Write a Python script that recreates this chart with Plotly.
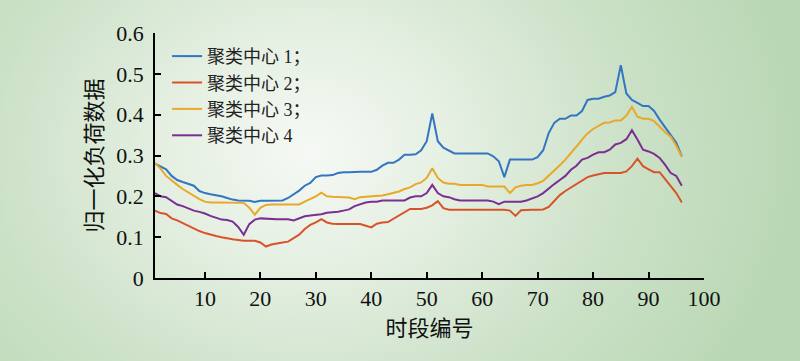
import base64
import plotly.graph_objects as go

x_idx = list(range(1, 97))

names = ["聚类中心 1；", "聚类中心 2；", "聚类中心 3；", "聚类中心 4"]
colors = ["#3276c2", "#d9532a", "#eaa82a", "#7a2f92"]

center1 = [0.280, 0.272, 0.266, 0.250, 0.240, 0.235, 0.230, 0.226, 0.213, 0.208,
           0.205, 0.203, 0.200, 0.196, 0.192, 0.190, 0.190, 0.189, 0.186, 0.189,
           0.189, 0.189, 0.190, 0.190, 0.196, 0.205, 0.214, 0.226, 0.233, 0.247,
           0.251, 0.251, 0.252, 0.257, 0.259, 0.259, 0.260, 0.260, 0.260, 0.260,
           0.265, 0.275, 0.282, 0.282, 0.290, 0.302, 0.302, 0.303, 0.313, 0.335,
           0.403, 0.335, 0.319, 0.311, 0.305, 0.305, 0.305, 0.305, 0.305, 0.305,
           0.305, 0.298, 0.286, 0.247, 0.290, 0.290, 0.290, 0.290, 0.290, 0.296,
           0.313, 0.355, 0.380, 0.390, 0.390, 0.398, 0.398, 0.409, 0.436, 0.439,
           0.439, 0.444, 0.447, 0.455, 0.521, 0.452, 0.436, 0.429, 0.421, 0.421,
           0.409, 0.388, 0.370, 0.351, 0.331, 0.298]

center2 = [0.165, 0.159, 0.157, 0.146, 0.141, 0.134, 0.128, 0.122, 0.115, 0.110,
           0.106, 0.103, 0.100, 0.097, 0.095, 0.093, 0.091, 0.091, 0.091, 0.087,
           0.077, 0.082, 0.085, 0.087, 0.089, 0.097, 0.106, 0.120, 0.130, 0.136,
           0.144, 0.136, 0.133, 0.132, 0.132, 0.132, 0.132, 0.132, 0.128, 0.124,
           0.133, 0.136, 0.137, 0.145, 0.153, 0.163, 0.169, 0.169, 0.169, 0.172,
           0.178, 0.188, 0.171, 0.167, 0.167, 0.167, 0.167, 0.167, 0.167, 0.167,
           0.167, 0.167, 0.167, 0.167, 0.165, 0.152, 0.166, 0.167, 0.167, 0.167,
           0.168, 0.174, 0.188, 0.203, 0.213, 0.222, 0.230, 0.240, 0.247, 0.251,
           0.254, 0.257, 0.257, 0.257, 0.257, 0.261, 0.274, 0.292, 0.274, 0.266,
           0.259, 0.259, 0.241, 0.224, 0.208, 0.185]

center3 = [0.282, 0.268, 0.250, 0.238, 0.228, 0.218, 0.210, 0.200, 0.193, 0.187,
           0.185, 0.185, 0.185, 0.185, 0.185, 0.185, 0.184, 0.172, 0.155, 0.172,
           0.179, 0.180, 0.180, 0.180, 0.180, 0.180, 0.180, 0.187, 0.193, 0.200,
           0.209, 0.200, 0.199, 0.198, 0.197, 0.197, 0.193, 0.198, 0.199, 0.200,
           0.200, 0.202, 0.205, 0.209, 0.212, 0.218, 0.222, 0.230, 0.234, 0.245,
           0.269, 0.245, 0.234, 0.231, 0.231, 0.228, 0.228, 0.228, 0.228, 0.228,
           0.224, 0.224, 0.224, 0.224, 0.208, 0.222, 0.226, 0.228, 0.228, 0.232,
           0.238, 0.250, 0.262, 0.276, 0.290, 0.305, 0.322, 0.339, 0.354, 0.365,
           0.372, 0.380, 0.381, 0.386, 0.386, 0.398, 0.419, 0.395, 0.390, 0.390,
           0.384, 0.370, 0.357, 0.346, 0.324, 0.297]

center4 = [0.208, 0.200, 0.198, 0.190, 0.180, 0.176, 0.170, 0.165, 0.162, 0.158,
           0.152, 0.147, 0.143, 0.142, 0.138, 0.125, 0.106, 0.132, 0.143, 0.146,
           0.145, 0.144, 0.144, 0.144, 0.144, 0.141, 0.146, 0.151, 0.153, 0.154,
           0.156, 0.160, 0.161, 0.162, 0.165, 0.168, 0.176, 0.181, 0.185, 0.187,
           0.187, 0.190, 0.190, 0.190, 0.190, 0.190, 0.197, 0.200, 0.200, 0.208,
           0.228, 0.208, 0.200, 0.198, 0.193, 0.190, 0.190, 0.190, 0.190, 0.190,
           0.190, 0.187, 0.181, 0.187, 0.187, 0.187, 0.187, 0.190, 0.195, 0.200,
           0.208, 0.220, 0.230, 0.240, 0.250, 0.265, 0.275, 0.290, 0.294, 0.302,
           0.308, 0.308, 0.314, 0.327, 0.331, 0.340, 0.362, 0.339, 0.314, 0.310,
           0.304, 0.294, 0.277, 0.257, 0.250, 0.226]

x_ticks = [10, 20, 30, 40, 50, 60, 70, 80, 90, 100]
y_ticks = [0, 0.1, 0.2, 0.3, 0.4, 0.5, 0.6]
y_tick_text = ["0", "0.1", "0.2", "0.3", "0.4", "0.5", "0.6"]

W, H = 800, 361
ML, MR, MT, MB = 155, 96, 33, 83

svg = f'''<svg xmlns="http://www.w3.org/2000/svg" width="{W}" height="{H}" viewBox="0 0 {W} {H}" preserveAspectRatio="none">
<defs><radialGradient id="g" gradientUnits="userSpaceOnUse" cx="310" cy="150" r="430"
 gradientTransform="translate(310 150) scale(1.15 0.95) translate(-310 -150)">
<stop offset="0" stop-color="#f6f9f5"/>
<stop offset="0.3" stop-color="#e4efe1"/>
<stop offset="0.65" stop-color="#cbe1c7"/>
<stop offset="1" stop-color="#b9d7b4"/>
</radialGradient></defs>
<rect width="{W}" height="{H}" fill="url(#g)"/></svg>'''
bg_uri = "data:image/svg+xml;base64," + base64.b64encode(svg.encode()).decode()

pw, ph = W - ML - MR, H - MT - MB

fig = go.Figure()
for name, col, ys in zip(names, colors, [center1, center2, center3, center4]):
    fig.add_trace(go.Scatter(x=x_idx, y=ys, mode="lines", name=name,
                             line=dict(color=col, width=2)))

font_fam = "Liberation Serif, Times New Roman, Noto Sans CJK SC, serif"

fig.update_layout(
    width=W, height=H,
    margin=dict(l=ML, r=MR, t=MT, b=MB),
    paper_bgcolor="#c5dec1",
    plot_bgcolor="rgba(0,0,0,0)",
    font=dict(family=font_fam, size=22, color="#111111"),
    images=[dict(source=bg_uri, xref="paper", yref="paper",
                 x=-ML / pw, y=1 + MT / ph, sizex=W / pw, sizey=H / ph,
                 xanchor="left", yanchor="top", sizing="stretch", layer="below")],
    showlegend=True,
    legend=dict(x=0.022, y=0.98, xanchor="left", yanchor="top",
                bgcolor="rgba(0,0,0,0)", borderwidth=0,
                font=dict(family=font_fam, size=18, color="#222222"),
                itemwidth=30, tracegroupgap=0),
    xaxis=dict(range=[1, 100], tickvals=x_ticks, ticks="inside", ticklen=6,
               tickwidth=1.5, tickcolor="black", showline=True, linecolor="black",
               linewidth=1.5, showgrid=False, zeroline=False,
               tickfont=dict(size=22),
               title=dict(text="时段编号", font=dict(size=22), standoff=10)),
    yaxis=dict(range=[0, 0.6], tickvals=y_ticks, ticktext=y_tick_text,
               ticks="inside", ticklen=6, tickwidth=1.5, tickcolor="black",
               showline=True, linecolor="black", linewidth=1.5,
               showgrid=False, zeroline=False, tickfont=dict(size=22),
               ticklabelstandoff=5,
               title=dict(text="归一化负荷数据", font=dict(size=22), standoff=8)),
)

fig.write_html("out.html", config={"displayModeBar": False},
               post_script="document.body.style.margin='0';document.body.style.overflow='hidden';")
